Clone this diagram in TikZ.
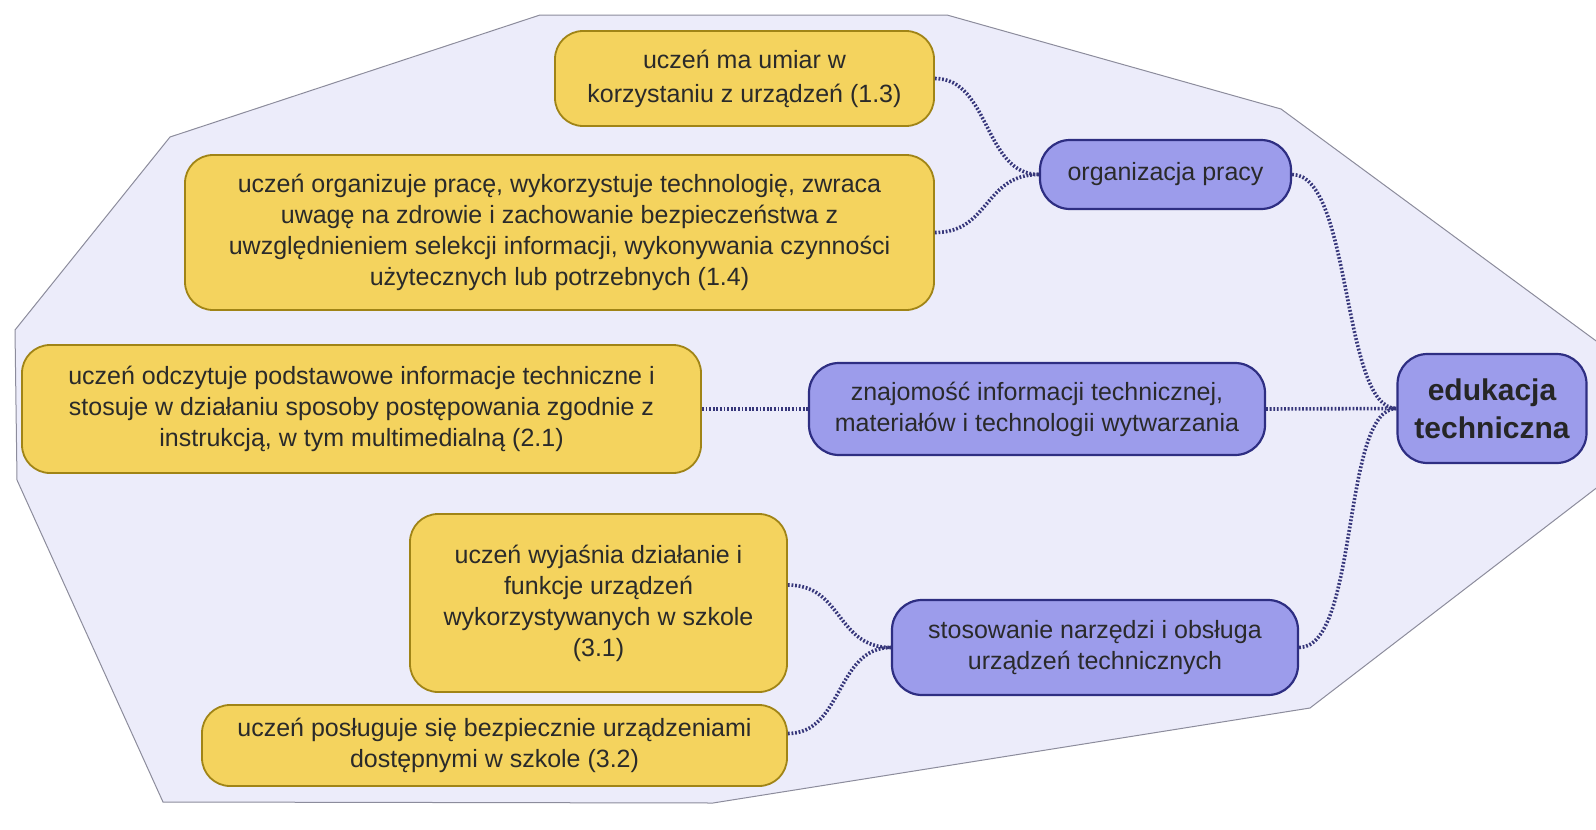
\documentclass[tikz,border=0pt]{standalone}
\usepackage{fontspec}
\setmainfont{Liberation Sans}
\usetikzlibrary{calc}
\definecolor{yfill}{HTML}{F4D35E}
\definecolor{ybord}{HTML}{A08416}
\definecolor{bfill}{HTML}{9C9CEB}
\definecolor{bbord}{HTML}{2E2E82}
\definecolor{pfill}{HTML}{ECECFA}
\definecolor{pbord}{HTML}{8C8C9C}
\definecolor{conn}{HTML}{36367A}
\definecolor{txt}{HTML}{2A2A2A}
\begin{document}
\begin{tikzpicture}[x=1pt,y=-1pt,
 ybox/.style={draw=ybord, fill=yfill, line width=1.8pt, rounded corners=28pt, align=center, inner sep=0pt, text=txt, font=\fontsize{25}{31}\selectfont},
 bbox/.style={draw=bbord, fill=bfill, line width=2.2pt, rounded corners=30pt, align=center, inner sep=0pt, text=txt, font=\fontsize{25}{31}\selectfont},
 link/.style={draw=conn, line width=3.6pt, dash pattern=on 1.8pt off 1.8pt}]
\useasboundingbox (0,0) rectangle (1596,830);
\begin{scope}
\clip (0,0) rectangle (1596,830);
\draw[fill=pfill, draw=pbord, line width=1pt] (540,15) -- (947,15) -- (1281,109) -- (1694,413) -- (1310,708) -- (713,803) -- (163,802) -- (17,480) -- (15,330) -- (170,137) -- cycle;
\end{scope}
% leaves
\node[ybox, minimum width=379pt, minimum height=95pt, font=\fontsize{25}{34}\selectfont] (b1) at (744.5,78.5) {ucze\'n ma umiar w\\korzystaniu z urządzeń (1.3)};
\node[ybox, minimum width=749pt, minimum height=155pt] (b2) at (559.5,232.5) {uczeń organizuje pracę, wykorzystuje technologię, zwraca\\uwagę na zdrowie i zachowanie bezpieczeństwa z\\uwzględnieniem selekcji informacji, wykonywania czynności\\użytecznych lub potrzebnych (1.4)};
\node[ybox, minimum width=679pt, minimum height=128pt] (b3) at (361.5,409) {uczeń odczytuje podstawowe informacje techniczne i\\stosuje w działaniu sposoby postępowania zgodnie z\\instrukcją, w tym multimedialną (2.1)};
\node[ybox, minimum width=377pt, minimum height=178pt] (b4) at (598.5,603) {uczeń wyjaśnia działanie i\\funkcje urządzeń\\wykorzystywanych w szkole\\(3.1)};
\node[ybox, minimum width=585pt, minimum height=81pt] (b5) at (494.5,745.5) {uczeń posługuje się bezpiecznie urządzeniami\\dostępnymi w szkole (3.2)};
% categories
\node[bbox, minimum width=251pt, minimum height=69pt] (org) at (1165.5,174.5) {organizacja pracy};
\node[bbox, minimum width=456pt, minimum height=92pt] (znaj) at (1037,409) {znajomość informacji technicznej,\\materiałów i technologii wytwarzania};
\node[bbox, minimum width=406pt, minimum height=95pt] (stos) at (1095,647.5) {stosowanie narzędzi i obsługa\\urządzeń technicznych};
\node[bbox, minimum width=189pt, minimum height=109pt, font=\bfseries\fontsize{30}{38}\selectfont, text=black!85] (edu) at (1492,408.5) {edukacja\\techniczna};
% connectors
\draw[link] (b1.east) .. controls +(55,0) and +(-55,0) .. (org.west);
\draw[link] (b2.east) .. controls +(55,0) and +(-55,0) .. (org.west);
\draw[link] (b3.east) -- (znaj.west);
\draw[link] ($(b4.east)+(0,-18)$) .. controls +(55,0) and +(-55,0) .. (stos.west);
\draw[link] ($(b5.east)+(0,-12)$) .. controls +(55,0) and +(-55,0) .. (stos.west);
\draw[link] (org.east) .. controls +(60,0) and +(-55,0) .. (edu.west);
\draw[link] (znaj.east) -- (edu.west);
\draw[link] (stos.east) .. controls +(60,0) and +(-55,0) .. (edu.west);
\end{tikzpicture}
\end{document}
